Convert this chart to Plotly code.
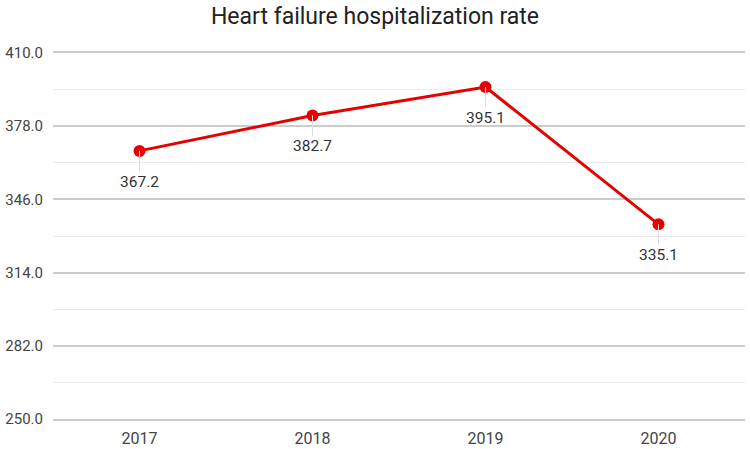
import plotly.graph_objects as go

years = ["2017", "2018", "2019", "2020"]
rates = [367.2, 382.7, 395.1, 335.1]
label_text = ["367.2", "382.7", "395.1", "335.1"]
y_ticks = [250, 282, 314, 346, 378, 410]
y_minor = [266, 298, 330, 362, 394]

fig = go.Figure()
fig.add_trace(go.Scatter(
    x=[0, 1, 2, 3], y=rates, mode="lines+markers",
    line=dict(color="#e60000", width=3),
    marker=dict(color="#e60000", size=12),
    hoverinfo="skip", showlegend=False,
))

for i, (v, t) in enumerate(zip(rates, label_text)):
    fig.add_annotation(
        x=i, y=v, text=t, showarrow=True, arrowhead=0, arrowwidth=1,
        arrowcolor="#dddddd", ax=0, ay=31, yanchor="middle",
        font=dict(family="Roboto", size=15.5, color="#333333"),
    )

fig.update_layout(
    width=750, height=449,
    margin=dict(l=53, r=5, t=53, b=30),
    paper_bgcolor="white", plot_bgcolor="white",
    title=dict(text="Heart failure hospitalization rate", x=0.5, xanchor="center",
               xref="container", yref="container", y=0.964, yanchor="middle",
               font=dict(family="Roboto", size=23, color="#222222")),
    xaxis=dict(
        tickmode="array", tickvals=[0, 1, 2, 3], ticktext=years,
        range=[-0.5, 3.5], showgrid=False, zeroline=False,
        showline=True, mirror=True, linecolor="#cccccc", linewidth=1.5,
        automargin=False,
        ticks="outside", ticklen=4, tickcolor="rgba(0,0,0,0)",
        tickfont=dict(family="Roboto", size=16, color="#444444"),
    ),
    yaxis=dict(
        tickmode="array", tickvals=y_ticks, ticktext=[f"{v:.1f}" for v in y_ticks],
        range=[250, 410], showgrid=True, gridcolor="#cccccc", gridwidth=1.5,
        zeroline=False, showline=False, automargin=False,
        ticks="outside", ticklen=6, tickcolor="rgba(0,0,0,0)",
        tickfont=dict(family="Roboto", size=15, color="#444444"),
        minor=dict(tickmode="array", tickvals=y_minor,
                   showgrid=True, gridcolor="#ebebeb", gridwidth=1),
    ),
)

fig.write_html("out.html", config={"displayModeBar": False},
               post_script="document.body.style.margin='0';")
